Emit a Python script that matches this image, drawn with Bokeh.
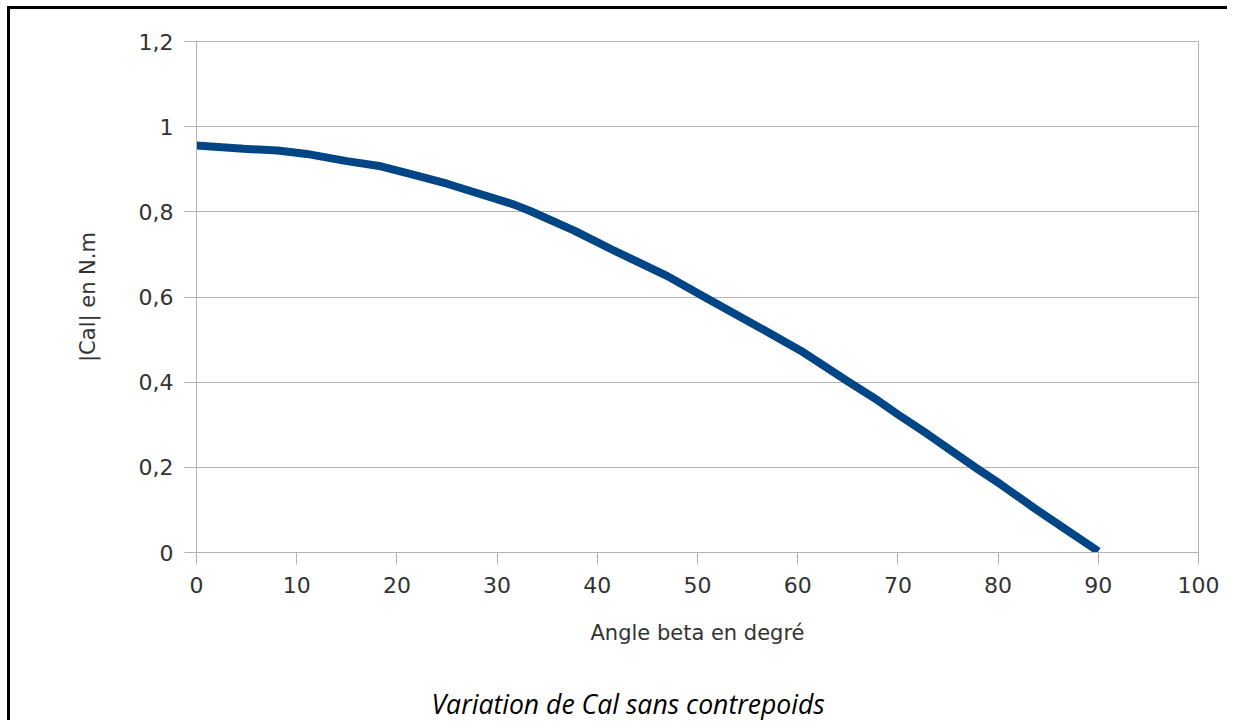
from bokeh.plotting import figure
from bokeh.models import FixedTicker, CustomJSTickFormatter, Title, Range1d, LinearAxis
from bokeh.embed import file_html
from bokeh.resources import INLINE

# Values
angle_deg = [0, 4.7, 8.1, 11, 15, 18.4, 21.7, 25, 28.3, 31.7, 33.3, 37.7,
             41.5, 47, 50.6, 56, 60.3, 65, 68, 70, 72.9, 77.9, 80.2,
             83.5, 86.9, 90]
cal_abs = [0.956, 0.948, 0.944, 0.936, 0.919, 0.907, 0.887, 0.866, 0.842,
           0.817, 0.802, 0.756, 0.711, 0.649, 0.601, 0.531, 0.474, 0.402,
           0.357, 0.324, 0.279, 0.197, 0.161, 0.106, 0.052, 0.003]

x_ticks = [0, 10, 20, 30, 40, 50, 60, 70, 80, 90, 100]
y_ticks = [0, 0.2, 0.4, 0.6, 0.8, 1.0, 1.2]

x_label = "Angle beta en degré"
y_label = "|Cal| en N.m"
caption = "Variation de Cal sans contrepoids"

GRID = "#b3b3b3"
TEXT = "#333333"
FONT = "DejaVu Sans"

p = figure(width=1220, height=714, output_backend="svg", toolbar_location=None,
           x_range=Range1d(0, 100), y_range=Range1d(0, 1.2),
           min_border_left=186, min_border_right=32,
           min_border_top=32, min_border_bottom=171,
           background_fill_color="white", border_fill_color="white",
           styles={"margin-left": "7px", "margin-top": "6px",
                   "border-top": "3px solid black", "border-left": "3px solid black"})

p.line(angle_deg, cal_abs, line_width=8, line_color="#004586", line_join="round")

p.outline_line_color = GRID
p.outline_line_width = 1
p.xgrid.visible = False
p.ygrid.ticker = FixedTicker(ticks=y_ticks)
p.ygrid.grid_line_color = GRID
p.ygrid.grid_line_width = 1

p.xaxis.ticker = FixedTicker(ticks=x_ticks)
p.yaxis.ticker = FixedTicker(ticks=y_ticks)
fmt = CustomJSTickFormatter(code="var s = (Math.round(tick*10)/10).toString(); return s.replace('.', ',');")
p.xaxis.formatter = fmt
p.yaxis.formatter = fmt

for ax in (p.xaxis, p.yaxis):
    ax.axis_line_color = GRID
    ax.major_tick_line_color = GRID
    ax.major_tick_out = 12
    ax.major_tick_in = 0
    ax.minor_tick_line_color = None
    ax.major_label_text_font = FONT
    ax.major_label_text_font_size = "22px"
    ax.major_label_text_color = TEXT
    ax.axis_label_text_font = FONT
    ax.axis_label_text_font_size = "21px"
    ax.axis_label_text_color = TEXT
    ax.axis_label_text_font_style = "normal"

p.xaxis.axis_label = x_label
p.yaxis.axis_label = y_label
p.xaxis.major_label_standoff = 12
p.yaxis.major_label_standoff = 11
p.xaxis.axis_label_standoff = 25
p.yaxis.axis_label_standoff = 36

# invisible spacer between the x axis and the caption
spacer = LinearAxis(ticker=FixedTicker(ticks=[]), major_tick_out=0, major_tick_in=0,
                    axis_line_color=None, major_tick_line_color=None,
                    minor_tick_line_color=None, major_label_standoff=0,
                    axis_label="\u00a0", axis_label_standoff=34,
                    axis_label_text_font_size="1px", axis_label_text_color="white")
p.add_layout(spacer, "below")

t = Title(text=caption, align="left", offset=235, text_font="Open Sans",
          text_font_style="italic", text_font_size="26.6px", text_color="black",
          vertical_align="top", standoff=0)
p.add_layout(t, "below")

open("out.html", "w").write(file_html(p, INLINE))
